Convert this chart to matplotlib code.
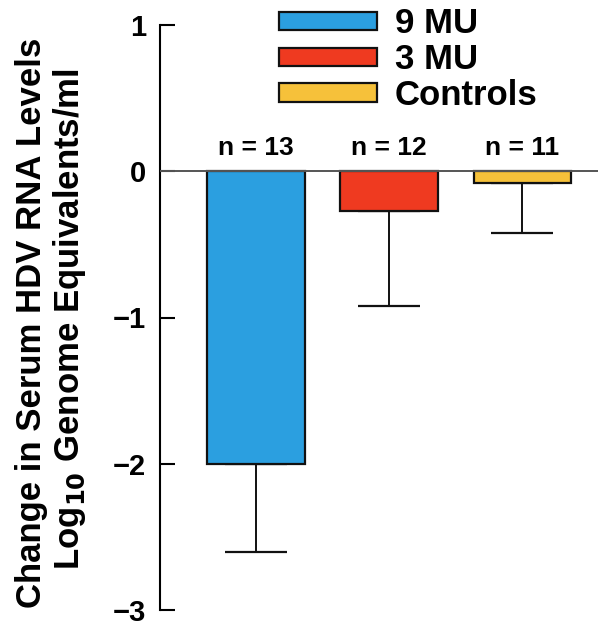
import matplotlib
matplotlib.use("Agg")
import matplotlib.pyplot as plt
from matplotlib.patches import Patch

plt.rcParams['font.family'] = ['Liberation Sans', 'DejaVu Sans']
plt.rcParams['font.weight'] = 'bold'

groups = ["9 MU", "3 MU", "Controls"]
means = [-2.00, -0.27, -0.08]
err_lower = [0.60, 0.65, 0.34]
n_labels = ["n = 13", "n = 12", "n = 11"]
colors = ["#2b9fe0", "#ef3a20", "#f6c13a"]
yticks = [1, 0, -1, -2, -3]
ytick_labels = ["1", "0", "\u22121", "\u22122", "\u22123"]

fig = plt.figure(figsize=(5.98, 6.26), dpi=100)
ax = fig.add_axes([160/598, 1-610/626, 438/598, 585/626])

x = list(range(len(groups)))
bars = ax.bar(x, means, width=0.73, color=colors, edgecolor="#111111", linewidth=1.6, zorder=2)
ax.errorbar(x, means, yerr=[err_lower, [0]*3], fmt="none", ecolor="#111111",
            elinewidth=1.4, capsize=22, capthick=1.6, zorder=1)
ax.axhline(0, color="#555555", linewidth=1.4, zorder=3)

for xi, lab in zip(x, n_labels):
    ax.text(xi, 0.08, lab, ha="center", va="bottom", fontsize=19, fontweight="bold")

ax.set_xlim(-0.722, 2.571)
ax.set_ylim(-3, 1)
ax.set_yticks(yticks)
ax.set_yticklabels(ytick_labels, fontsize=21, fontweight="bold")
ax.tick_params(axis="y", direction="in", length=11, width=1.5, pad=10)
ax.set_xticks([])
for s in ["top", "right", "bottom"]:
    ax.spines[s].set_visible(False)
ax.spines["left"].set_linewidth(1.5)
ax.set_facecolor("none")

fig.text(0.052, 0.485, "Change in Serum HDV RNA Levels", rotation=90, ha="center", va="center",
         fontsize=25, fontweight="bold")
fig.text(0.117, 0.49, "Log$_{\\mathbf{10}}$ Genome Equivalents/ml", rotation=90, ha="center", va="center",
         fontsize=25, fontweight="bold")

handles = [Patch(facecolor=c, edgecolor="#111111", linewidth=1.6) for c in colors]
leg = fig.legend(handles, groups, loc="upper left", bbox_to_anchor=(262/598, 1.016),
                 frameon=False, fontsize=25, handlelength=2.82, handleheight=0.43,
                 labelspacing=0.08, handletextpad=0.5, borderpad=0.0)
for t in leg.get_texts():
    t.set_fontweight("bold")

fig.savefig("out.png", dpi=100)
